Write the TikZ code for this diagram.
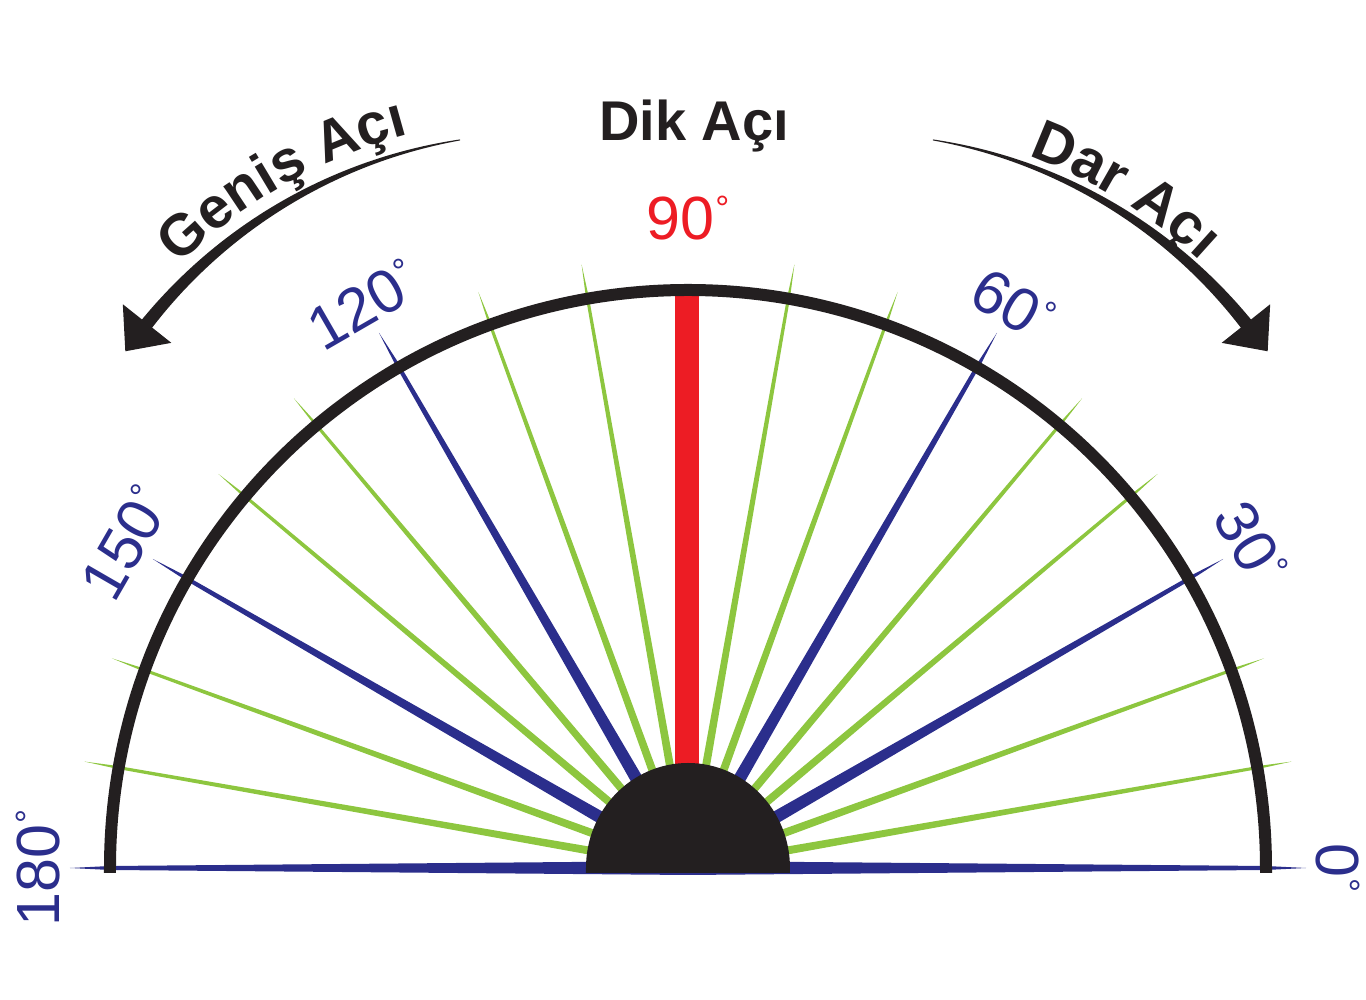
\documentclass[tikz,border=0pt]{standalone}
\usepackage{fontspec}
\setmainfont{Liberation Sans}
\usetikzlibrary{decorations.text}
\definecolor{rayblue}{RGB}{43,46,140}
\definecolor{raygreen}{RGB}{141,198,63}
\definecolor{rayred}{RGB}{237,28,36}
\definecolor{ink}{RGB}{35,31,32}
\newcommand\degsign{\hspace{1pt}\raisebox{19pt}{\fontsize{35pt}{35pt}\selectfont °}}
\newcommand\numfont{\fontsize{61pt}{61pt}\selectfont}
\newcommand\titlefont{\fontsize{56pt}{56pt}\selectfont\bfseries}
\newcommand\arcfont{\fontsize{58pt}{58pt}\selectfont\bfseries}
\begin{document}
\begin{tikzpicture}[x=1pt,y=1pt,
  lbl/.style={font=\numfont, text=rayblue, inner sep=0pt},
  titletext/.style={font=\titlefont, text=ink, inner sep=0pt},
  greenray/.style={fill=raygreen},
  blueray/.style={fill=rayblue}]
\useasboundingbox (-688,-132) rectangle (678,868);
% rays
\foreach \a in {10,20,40,50,70,80,100,110,130,140,160,170}
  \fill[greenray, rotate=\a] (0,4.5) -- (578,1.5) -- (613,0) -- (578,-1.5) -- (0,-4.5) -- cycle;
\foreach \a in {0,30,60,120,150,180}
  \fill[blueray, rotate=\a] (0,7) -- (578,2) -- (618,0) -- (578,-2) -- (0,-7) -- cycle;
% red right angle bar
\fill[rayred] (-13,90) rectangle (11,573);
% central half disc
\fill[ink] (-102,-5) -- (-102,0) arc[start angle=180, end angle=0, x radius=102, y radius=105] -- (102,-5) -- cycle;
% protractor arc
\draw[ink, line width=12pt] (578,-5) -- (578,0) arc[start angle=0, end angle=180, radius=578] -- (-578,-5);
% labels
\foreach \a in {0,30,60,120,150,180}
  \node[lbl, rotate=\a-90] (l\a) at (\a:650) {\a\degsign};
\node[lbl, text=rayred] (l90) at (90:650) {90\degsign};
% title
\node[titletext, anchor=base] (dik) at (6,727) {Dik Açı};
% left curved arrow
\begin{scope}[shift={(-146.5,230.7)}]
  \fill[ink] plot[domain=99.3:141.8, samples=60, variable=\t]
      ({(504+0.5+6*(\t-99.3)/42.2)*cos(\t)}, {(504+0.5+6*(\t-99.3)/42.2)*sin(\t)})
    -- plot[domain=141.8:99.3, samples=60, variable=\t]
      ({(504-0.5-6*(\t-99.3)/42.2)*cos(\t)}, {(504-0.5-6*(\t-99.3)/42.2)*sin(\t)}) -- cycle;
  \fill[ink] (141.5:473) -- (145.5:505) -- (141.5:535) -- cycle;
\end{scope}
% right curved arrow (mirror image)
\begin{scope}[xshift=17pt, xscale=-1, shift={(-146.5,230.7)}]
  \fill[ink] plot[domain=99.3:141.8, samples=60, variable=\t]
      ({(504+0.5+6*(\t-99.3)/42.2)*cos(\t)}, {(504+0.5+6*(\t-99.3)/42.2)*sin(\t)})
    -- plot[domain=141.8:99.3, samples=60, variable=\t]
      ({(504-0.5-6*(\t-99.3)/42.2)*cos(\t)}, {(504-0.5-6*(\t-99.3)/42.2)*sin(\t)}) -- cycle;
  \fill[ink] (141.5:473) -- (145.5:505) -- (141.5:535) -- cycle;
\end{scope}
% curved texts
\path[decorate, decoration={text along path, text={|\arcfont\color{ink}|Geniş Açı}, text align=center}]
  (-146.5,230.7) ++(138:520) arc[start angle=138, end angle=101, radius=520];
\path[decorate, decoration={text along path, text={|\arcfont\color{ink}|Dar Açı}, text align=center}]
  (163.5,230.7) ++(75:513) arc[start angle=75, end angle=42, radius=513];
\end{tikzpicture}
\end{document}
